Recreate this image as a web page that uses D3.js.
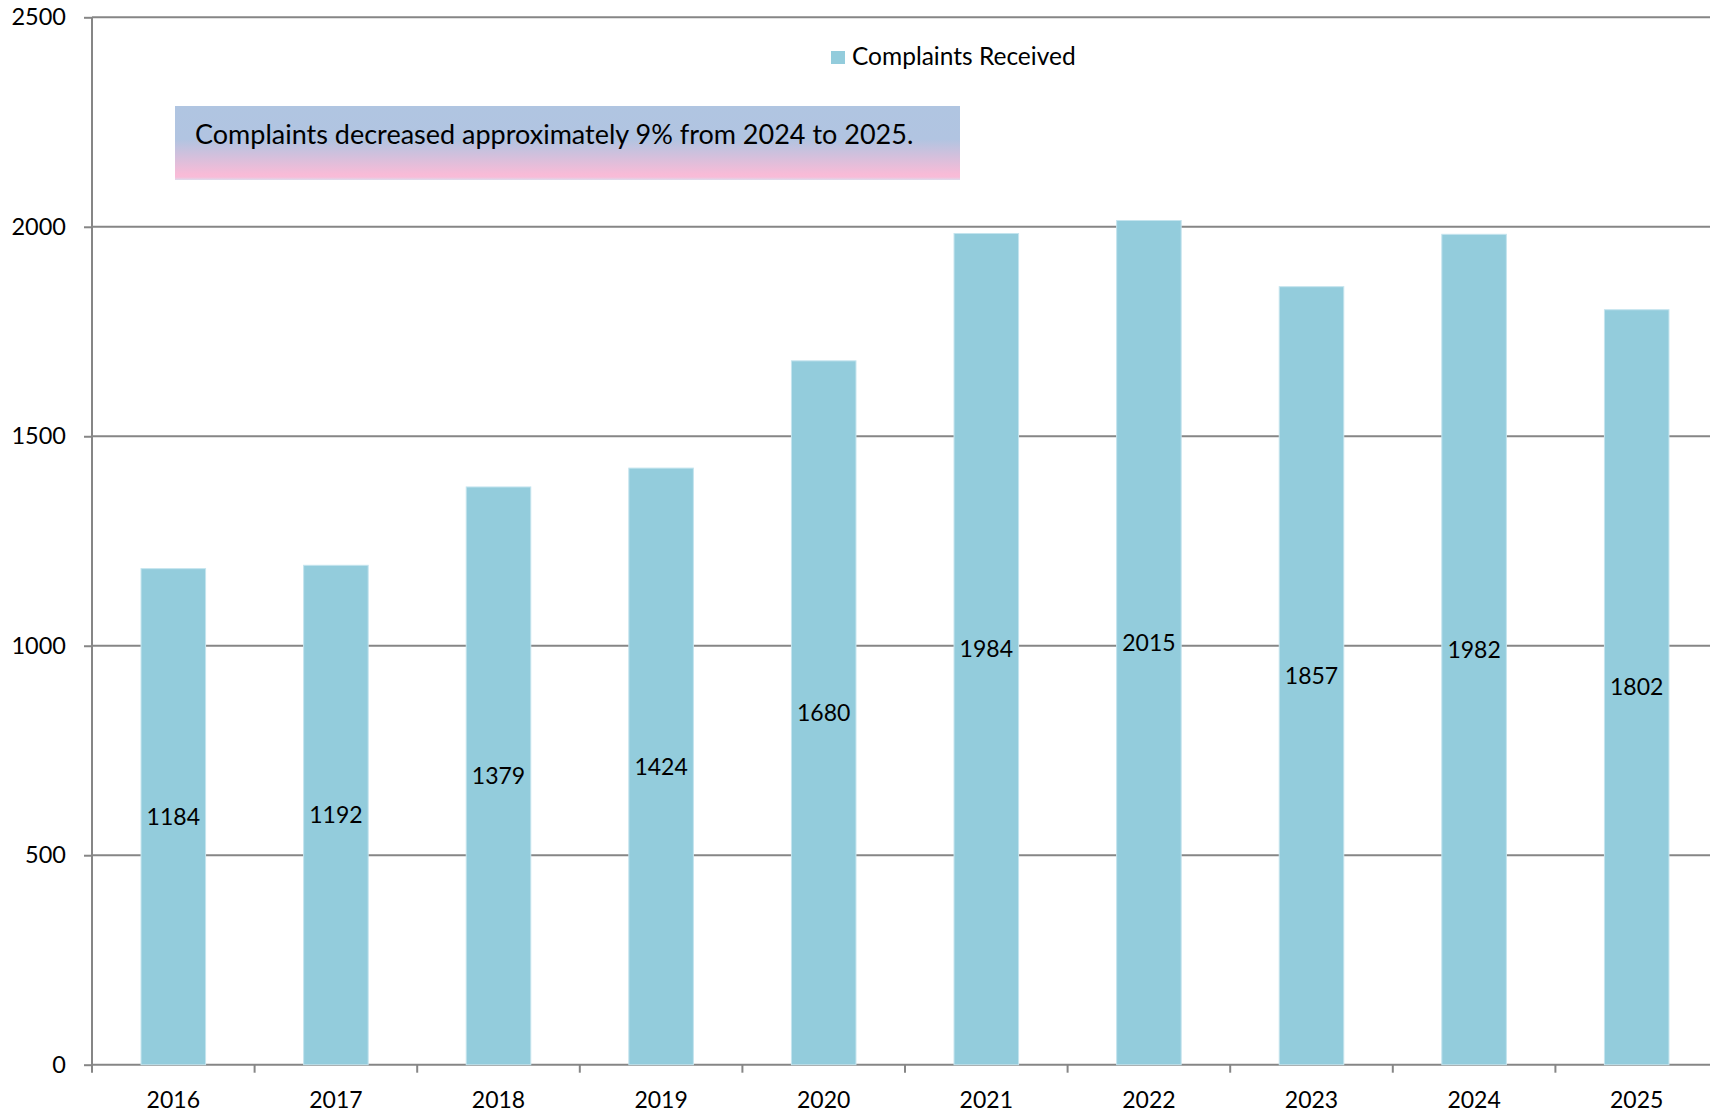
<!DOCTYPE html>
<html>
<head>
<meta charset="utf-8">
<script src="https://cdn.jsdelivr.net/npm/d3@7"></script>
<style>
  html, body { margin: 0; padding: 0; background: #fff; }
  svg { display: block; font-family: Lato, 'Open Sans', sans-serif; }
</style>
</head>
<body>
<svg id="chart" width="1710" height="1114"></svg>
<script>
    'use strict'

    const years = ['2016', '2017', '2018', '2019', '2020', '2021', '2022', '2023', '2024', '2025'];
    const complaints = [1184, 1192, 1379, 1424, 1680, 1984, 2015, 1857, 1982, 1802];
    const yTicks = [0, 500, 1000, 1500, 2000, 2500];
    const seriesName = 'Complaints Received';
    const note = 'Complaints decreased approximately 9% from 2024 to 2025.';

    const svg = d3.select('#chart'),
        margin = {
            top: 17.3,
            left: 92
        },
        step = 162.6,
        width = step * years.length,
        height = 1064.7 - margin.top;

    const data = years.map((y, i) => {
        return { year: y, value: complaints[i] };
    });

    const x = d3.scaleBand().domain(years).range([0, width]).padding(0);
    const y = d3.scaleLinear().domain([0, 2500]).range([height, 0]);

    const g = svg.append('g')
        .attr('transform', 'translate(' + margin.left + ',' + margin.top + ')');

    // gridlines
    g.append('g')
        .selectAll('line')
        .data(yTicks.filter(d => d > 0))
        .enter().append('line')
        .attr('x1', 0)
        .attr('x2', 1720)
        .attr('y1', d => y(d))
        .attr('y2', d => y(d))
        .attr('stroke', '#868686')
        .attr('stroke-width', 2);

    // y axis
    const yAxis = g.append('g')
        .call(d3.axisLeft(y).tickValues(yTicks).tickFormat(d3.format('d')).tickSize(8).tickPadding(18));
    yAxis.select('.domain').remove();
    yAxis.selectAll('.tick line').attr('stroke', '#868686').attr('stroke-width', 2);
    yAxis.selectAll('.tick text')
        .attr('fill', '#000')
        .style('font-size', '23.5px')
        .style('font-family', 'Lato, sans-serif');
    g.append('line')
        .attr('x1', 0).attr('x2', 0)
        .attr('y1', 0).attr('y2', height + 8)
        .attr('stroke', '#868686')
        .attr('stroke-width', 2);

    // x axis: line, ticks at category boundaries, labels centred
    g.append('line')
        .attr('x1', 0).attr('x2', 1720)
        .attr('y1', height).attr('y2', height)
        .attr('stroke', '#868686')
        .attr('stroke-width', 2);
    g.append('g')
        .selectAll('line')
        .data(years.slice(1))
        .enter().append('line')
        .attr('x1', d => x(d))
        .attr('x2', d => x(d))
        .attr('y1', height)
        .attr('y2', height + 8)
        .attr('stroke', '#868686')
        .attr('stroke-width', 2);
    g.append('g')
        .selectAll('text')
        .data(years)
        .enter().append('text')
        .attr('x', d => x(d) + x.bandwidth() / 2)
        .attr('y', height + 43)
        .attr('text-anchor', 'middle')
        .style('font-size', '23px')
        .text(d => d);

    // bars
    const barW = x.bandwidth() * 0.397;
    g.selectAll('.bar')
        .data(data)
        .enter().append('rect')
        .attr('class', 'bar')
        .attr('x', d => x(d.year) + (x.bandwidth() - barW) / 2)
        .attr('y', d => y(d.value))
        .attr('width', barW)
        .attr('height', d => height - y(d.value))
        .attr('fill', '#93ccdc')
        .attr('stroke', '#c4e4ee')
        .attr('stroke-width', 1);

    // value labels at bar middle
    g.selectAll('.val')
        .data(data)
        .enter().append('text')
        .attr('class', 'val')
        .attr('x', d => x(d.year) + x.bandwidth() / 2)
        .attr('y', d => (y(d.value) + height) / 2)
        .attr('dy', '0.36em')
        .attr('text-anchor', 'middle')
        .style('font-size', '23px')
        .text(d => d.value);

    // legend
    const legend = svg.append('g').attr('transform', 'translate(831,51)');
    legend.append('rect')
        .attr('width', 14).attr('height', 13)
        .attr('fill', '#93ccdc');
    legend.append('text')
        .attr('x', 21)
        .attr('y', 14)
        .style('font-size', '24.5px')
        .text(seriesName);

    // annotation box
    const defs = svg.append('defs');
    const grad = defs.append('linearGradient')
        .attr('id', 'noteFill')
        .attr('x1', 0).attr('y1', 0).attr('x2', 0).attr('y2', 1);
    grad.append('stop').attr('offset', '0%').attr('stop-color', '#b0c5e1');
    grad.append('stop').attr('offset', '45%').attr('stop-color', '#b1c4e1');
    grad.append('stop').attr('offset', '92%').attr('stop-color', '#f8bbd7');
    grad.append('stop').attr('offset', '96%').attr('stop-color', '#f8bcd8');
    grad.append('stop').attr('offset', '100%').attr('stop-color', '#dcdcec');

    svg.append('rect')
        .attr('x', 175)
        .attr('y', 106)
        .attr('width', 785)
        .attr('height', 74)
        .attr('fill', 'url(#noteFill)');
    svg.append('text')
        .attr('x', 195)
        .attr('y', 144)
        .style('font-size', '27px')
        .text(note);
</script>
</body>
</html>
